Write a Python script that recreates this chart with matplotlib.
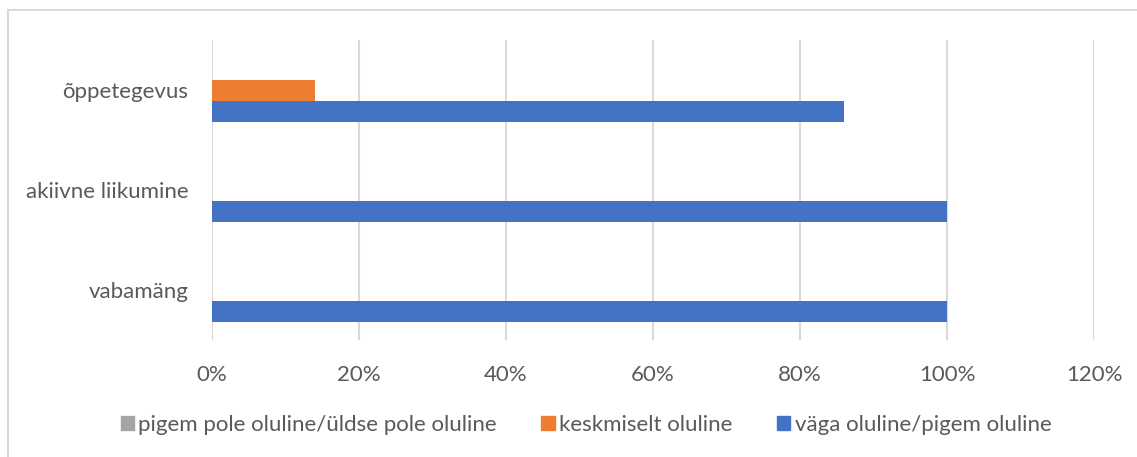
import numpy as np
import matplotlib.pyplot as plt
from matplotlib.patches import Patch
from matplotlib.lines import Line2D
from matplotlib.ticker import FuncFormatter

# Daten
categories = ["vabamäng", "akiivne liikumine", "õppetegevus"]
series_names = ["väga oluline/pigem oluline", "keskmiselt oluline",
                "pigem pole oluline/üldse pole oluline"]
vaga = [100, 100, 86]
keskmiselt = [0, 0, 14]
pole = [0, 0, 0]
colors = ["#4472C4", "#ED7D31", "#A5A5A5"]

plt.rcParams['font.family'] = ['Lato', 'DejaVu Sans']
txt = "#595959"
fs = 16

fig = plt.figure(figsize=(11.37, 4.57), dpi=100)
W, H = 1137, 457
ax = fig.add_axes([212 / W, 1 - 340 / H, (1094 - 212) / W, 300 / H])

y = np.arange(len(categories))
h = 0.21
for i, vals in enumerate([vaga, keskmiselt, pole]):
    ax.barh(y + (i - 1) * h, vals, height=h, color=colors[i], zorder=3)

ax.set_xlim(0, 120)
ax.set_ylim(-0.5, 2.5)
ax.set_xticks(np.arange(0, 121, 20))
ax.xaxis.set_major_formatter(FuncFormatter(lambda v, p: f"{v:.0f}%"))
ax.set_yticks(y)
ax.set_yticklabels(categories)
ax.grid(axis="x", color="#d9d9d9", linewidth=1.5, zorder=0)
for s in ax.spines.values():
    s.set_visible(False)
ax.tick_params(length=0, labelsize=fs, colors=txt)
ax.tick_params(axis="x", pad=18)
ax.tick_params(axis="y", pad=17)

# Legende (umgekehrte Reihenfolge)
handles = [Patch(color=colors[i]) for i in [2, 1, 0]]
labels = [series_names[i] for i in [2, 1, 0]]
fig.legend(handles, labels, loc="center", bbox_to_anchor=(586 / W, 1 - 425 / H),
           ncol=3, frameon=False, fontsize=fs, labelcolor=txt,
           handlelength=0.6, handleheight=0.6, handletextpad=0.2,
           columnspacing=2.0)

# Rahmen
fig.add_artist(Line2D([8 / W, 8 / W], [0, 1 - 10 / H], transform=fig.transFigure,
                      color="#d9d9d9", linewidth=1.5))
fig.add_artist(Line2D([8 / W, 1], [1 - 10 / H, 1 - 10 / H], transform=fig.transFigure,
                      color="#d9d9d9", linewidth=1.5))

fig.savefig("out.png", dpi=100)
